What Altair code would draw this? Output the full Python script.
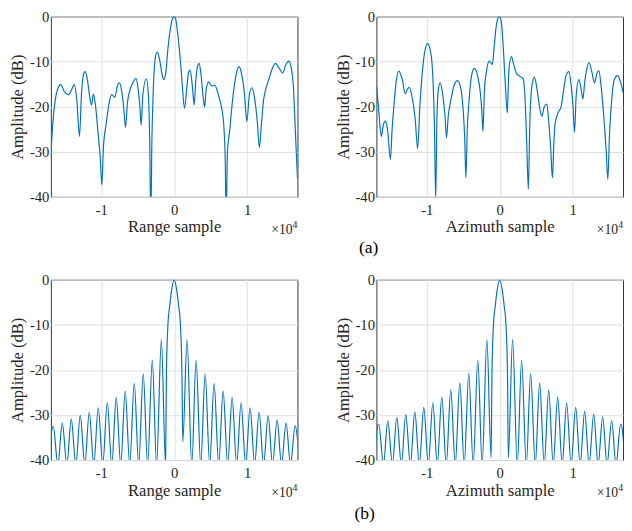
import altair as alt
import pandas as pd

# ---------------- data ----------------
# (a) Range profile: sample position, amplitude (dB)
RANGE_A_X = [-16900, -16650, -16300, -16000, -15560, -15000, -14440, -14000, -13690, -13350,
             -12980, -12700, -12450, -12180, -11900, -11600, -11330, -11080, -10800, -10450,
             -10150, -9910, -9700, -9330, -8950, -8580, -8130, -7800, -7470, -7200,
             -6900, -6670, -6400, -6000, -5600, -5240, -4950, -4700, -4530, -4300,
             -3820, -3550, -3350, -3200, -3050, -2900, -2760, -2550, -2310, -2000,
             -1700, -1420, -1150, -850, -500, -200, 0, 200, 500, 840,
             1100, 1420, 1750, 2000, 2170, 2400, 2600, 2740, 2950, 3200,
             3410, 3650, 3950, 4160, 4400, 4730, 5130, 5580, 6000, 6400,
             6590, 6850, 7000, 7120, 7300, 7610, 8000, 8500, 8890, 9250,
             9600, 9960, 10300, 10660, 11000, 11400, 11680, 11950, 12250, 12570,
             13000, 13450, 13890, 14400, 14870, 15300, 15750, 16050, 16330, 16600,
             16900]
RANGE_A_DB = [-30.8, -24.0, -18.5, -16.2, -15.1, -16.8, -17.3, -16.0, -15.1, -18.5,
              -26.6, -17.0, -13.0, -12.2, -14.0, -17.5, -19.6, -17.2, -19.5, -25.5,
              -31.0, -37.3, -29.0, -23.9, -19.5, -17.3, -17.9, -15.5, -14.7, -16.5,
              -20.5, -24.6, -19.0, -16.0, -14.5, -13.7, -16.0, -20.0, -24.1, -17.5,
              -13.8, -17.0, -28.0, -45.0, -27.0, -18.0, -12.5, -8.8, -7.9, -9.5,
              -12.5, -14.0, -12.5, -7.0, -2.5, -0.3, 0.0, -0.5, -4.0, -9.5,
              -15.0, -20.4, -15.5, -12.2, -11.9, -14.0, -17.5, -19.6, -14.5, -11.0,
              -10.4, -12.5, -17.5, -20.1, -16.0, -14.5, -15.4, -15.3, -17.0, -19.5,
              -21.0, -25.5, -32.0, -45.0, -30.0, -25.3, -18.5, -12.8, -11.1, -12.8,
              -16.5, -23.3, -17.5, -15.8, -17.8, -23.5, -29.1, -24.0, -18.5, -16.0,
              -13.8, -11.5, -10.4, -11.5, -12.5, -10.7, -9.9, -11.5, -15.3, -25.0,
              -36.1]

# (a) Azimuth profile
AZ_A_X = [-16900, -16650, -16400, -16220, -15950, -15640, -15350, -14980, -14750, -14530,
          -14200, -13850, -13350, -12950, -12620, -12400, -12000, -11600, -11250, -10950,
          -10670, -10300, -9900, -9450, -9150, -8950, -8780, -8600, -8400, -8160,
          -7800, -7500, -7300, -7050, -6700, -6200, -5780, -5400, -5050, -4800,
          -4640, -4450, -4220, -3850, -3480, -3050, -2650, -2450, -2300, -2100,
          -1800, -1450, -1250, -1000, -750, -530, -250, 0, 250, 530,
          800, 1040, 1250, 1600, 1900, 2300, 2700, 3000, 3200, 3450,
          3700, 3920, 4120, 4400, 4760, 5100, 5450, 5770, 6100, 6450,
          6700, 6980, 7220, 7420, 7580, 8000, 8400, 8700, 9100, 9480,
          9800, 10050, 10250, 10480, 10850, 11150, 11400, 11650, 11950, 12250,
          12650, 13000, 13300, 13580, 13900, 14300, 14600, 14820, 15050, 15330,
          15700, 16150, 16500, 16900]
AZ_A_DB = [-15.6, -19.5, -24.5, -26.6, -24.0, -23.2, -25.5, -31.7, -25.0, -20.3,
           -14.5, -12.1, -14.0, -17.1, -16.0, -15.7, -18.0, -22.5, -29.3, -20.0,
           -13.5, -8.0, -6.0, -8.0, -14.0, -24.0, -40.5, -22.0, -16.0, -14.7,
           -17.5, -22.0, -26.9, -22.0, -18.5, -15.0, -14.2, -15.5, -20.0, -27.0,
           -35.8, -25.0, -19.0, -13.0, -11.5, -13.0, -17.0, -21.0, -25.5, -16.5,
           -12.0, -9.9, -10.2, -10.6, -6.5, -2.8, -0.4, 0.0, -1.5, -8.1,
           -16.0, -21.4, -12.0, -8.9, -10.5, -12.6, -13.2, -13.5, -13.8, -17.5,
           -28.0, -38.3, -24.0, -15.5, -13.5, -16.0, -20.0, -22.1, -20.0, -19.4,
           -23.0, -29.0, -35.8, -28.0, -23.9, -21.3, -20.1, -17.0, -13.0, -12.2,
           -15.5, -20.0, -25.7, -17.5, -14.0, -16.0, -18.3, -14.5, -11.5, -10.2,
           -12.5, -14.7, -12.7, -12.0, -15.5, -23.0, -30.0, -36.1, -26.0, -18.8,
           -14.0, -13.1, -14.2, -16.8]

# (b) sinc-like responses: main lobe, sidelobe peaks and nulls (distance from centre)
MAIN_X = [-1060, -840, -620, -350, 0, 350, 620, 840, 1060]
MAIN_DB = [-20.3, -9.5, -5.9, -2.3, 0.0, -2.3, -5.9, -9.5, -20.3]
PEAK_POS = [1760, 3000, 4240, 5470, 6710, 7940, 9170, 10410, 11640, 12880, 14110, 15340, 16580]
NULL_POS = [1180, 2410, 3640, 4870, 6100, 7330, 8560, 9790, 11020, 12250, 13480, 14710, 15940, 17170]
SIDE_NULL_DB = -41.0  # nulls fall below the -40 dB floor

RANGE_B_LEFT = [-13.3, -17.8, -20.9, -23.0, -24.7, -26.1, -27.3, -28.4, -29.4, -30.1, -30.9, -31.8, -32.5]
RANGE_B_RIGHT = [-13.3, -17.8, -20.9, -23.0, -24.7, -26.1, -27.3, -28.4, -29.4, -30.2, -31.1, -31.8, -32.4]
RANGE_B_MAIN_NULL = [-41.0, -36.0]
RANGE_B_EDGE = [-35.0, -35.4]

AZ_B_LEFT = [-13.3, -17.8, -20.7, -22.9, -24.5, -26.0, -27.3, -28.3, -29.3, -29.9, -30.6, -31.3, -32.0]
AZ_B_RIGHT = [-13.2, -17.8, -20.8, -22.9, -24.5, -26.0, -27.3, -28.3, -29.2, -29.8, -30.4, -31.3, -32.0]
AZ_B_MAIN_NULL = [-39.5, -39.5]
AZ_B_EDGE = [-34.3, -34.7]

X_TICKS = [-10000, 0, 10000]
Y_TICKS = [0, -10, -20, -30, -40]
X_DOMAIN = [-16900, 16900]
Y_DOMAIN = [-40, 0]

# ---------------- styling ----------------
W, H = 253, 185
BLUE = "#0072BD"
FONT = "Liberation Serif"
TXT = "#262626"


def lobe_table(left_db, right_db, main_null, edge):
    pts = list(zip(MAIN_X, MAIN_DB))
    pts.append((-NULL_POS[0], main_null[0]))
    pts.append((NULL_POS[0], main_null[1]))
    for p, l, r in zip(PEAK_POS, left_db, right_db):
        pts.append((-p, l))
        pts.append((p, r))
    for n in NULL_POS[1:]:
        pts.append((-n, SIDE_NULL_DB))
        pts.append((n, SIDE_NULL_DB))
    pts.append((X_DOMAIN[0], edge[0]))
    pts.append((X_DOMAIN[1], edge[1]))
    pts.sort()
    return pd.DataFrame(pts, columns=["x", "y"])


AXIS_STYLE = dict(labelFont=FONT, titleFont=FONT, labelFontSize=15, titleFontSize=17,
                  titleFontWeight="normal", labelColor=TXT, titleColor=TXT,
                  grid=True, gridColor="#dfdfdf", gridWidth=1, ticks=False, tickSize=0,
                  domain=False)


def panel(df, xtitle):
    line = alt.Chart(df).mark_line(
        color=BLUE, strokeWidth=1.2, clip=True, interpolate="monotone"
    ).encode(
        x=alt.X("x:Q", scale=alt.Scale(domain=X_DOMAIN, nice=False, zero=False),
                axis=alt.Axis(values=X_TICKS, title=xtitle,
                              labelExpr="datum.value == 0 ? '0' : (datum.value < 0 ? '-' : '') + format(abs(datum.value) / 10000, 'd')",
                              labelPadding=6, titlePadding=2, **AXIS_STYLE)),
        y=alt.Y("y:Q", scale=alt.Scale(domain=Y_DOMAIN, nice=False, zero=False),
                axis=alt.Axis(values=Y_TICKS, title="Amplitude (dB)",
                              labelExpr="datum.value == 0 ? '0' : '-' + format(abs(datum.value), 'd')",
                              labelPadding=2, titlePadding=3, **AXIS_STYLE)),
    )
    base = alt.Chart(pd.DataFrame({"t": ["×10"], "s": ["4"]}))
    exp_main = base.mark_text(font=FONT, fontSize=14, color=TXT, align="right",
                              baseline="alphabetic").encode(
        text="t:N", x=alt.value(W - 5), y=alt.value(H + 38))
    exp_sup = base.mark_text(font=FONT, fontSize=10, color=TXT, align="right",
                             baseline="alphabetic").encode(
        text="s:N", x=alt.value(W), y=alt.value(H + 32))
    return alt.layer(line, exp_main, exp_sup).properties(width=W, height=H)


def caption(label, x, y, h):
    return alt.Chart(pd.DataFrame({"t": [label]})).mark_text(
        font=FONT, fontSize=18, color="black", align="center", baseline="middle"
    ).encode(text="t:N", x=alt.value(x), y=alt.value(y)).properties(
        width=560, height=h, view=alt.ViewBackground(stroke="transparent", fill="white"))


range_a = pd.DataFrame({"x": RANGE_A_X, "y": RANGE_A_DB})
az_a = pd.DataFrame({"x": AZ_A_X, "y": AZ_A_DB})
range_b = lobe_table(RANGE_B_LEFT, RANGE_B_RIGHT, RANGE_B_MAIN_NULL, RANGE_B_EDGE)
az_b = lobe_table(AZ_B_LEFT, AZ_B_RIGHT, AZ_B_MAIN_NULL, AZ_B_EDGE)

top = alt.hconcat(panel(range_a, "Range sample"), panel(az_a, "Azimuth sample"), spacing=36)
bottom = alt.hconcat(panel(range_b, "Range sample"), panel(az_b, "Azimuth sample"), spacing=36)

chart = alt.vconcat(
    top, caption("(a)", 326, 10, 33), bottom, caption("(b)", 322, 12, 21), spacing=0
).properties(
    padding={"left": 0, "top": -6, "right": 0, "bottom": 0}
).configure(
    background="white", font=FONT
).configure_view(
    stroke="#333333", strokeWidth=1
)

chart.save("out.html", embed_options={"renderer": "svg", "actions": False})
